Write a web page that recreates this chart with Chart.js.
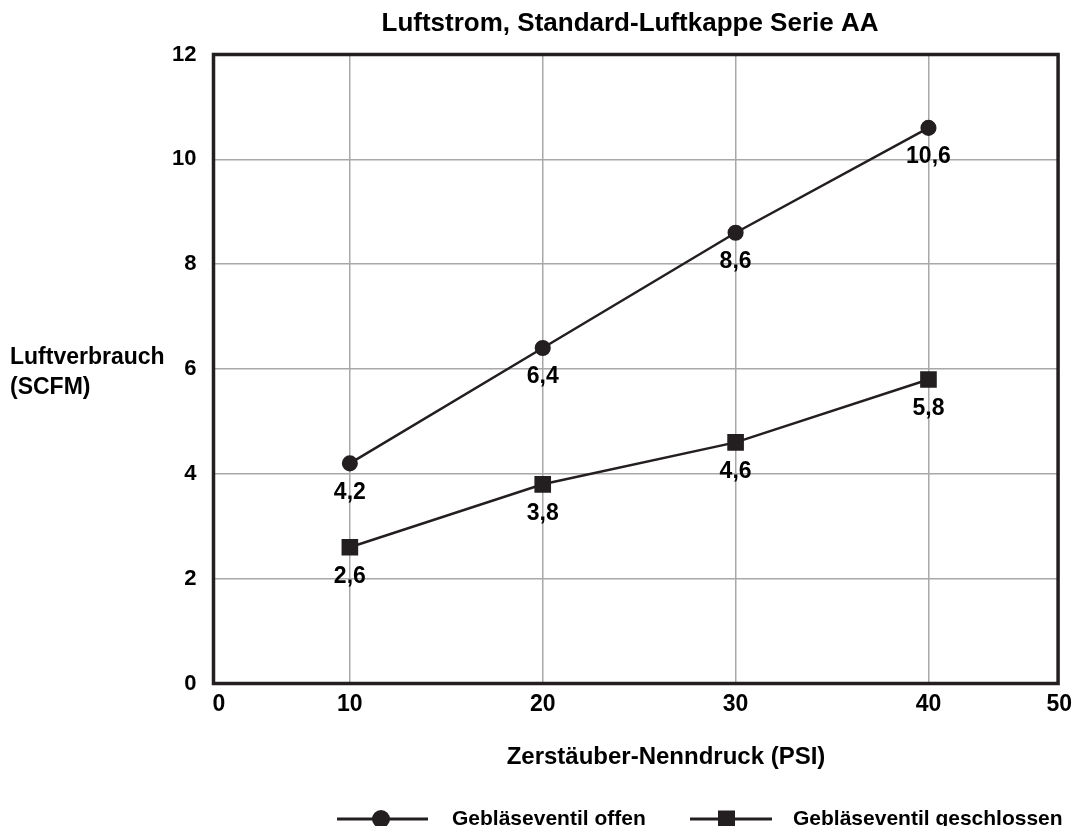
<!DOCTYPE html>
<html>
<head>
<meta charset="utf-8">
<script src="https://cdn.jsdelivr.net/npm/chart.js@4.4.1/dist/chart.umd.min.js"></script>
<style>
  html, body { margin: 0; padding: 0; background: #ffffff; }
  #wrap { width: 1079px; height: 826px; position: relative; }
</style>
</head>
<body>
<div id="wrap"><canvas id="c" width="1079" height="826"></canvas></div>
<script>
// Zerstäuber-Nenndruck (PSI)
const pressures = [10, 20, 30, 40];
// Luftverbrauch (SCFM)
const ventilOffen = [4.2, 6.4, 8.6, 10.6];
const ventilGeschlossen = [2.6, 3.8, 4.6, 5.8];

const seriesNames = ['Gebläseventil offen', 'Gebläseventil geschlossen'];
const xTickLabels = ['0', '10', '20', '30', '40', '50'];
const yTickValues = [0, 2, 4, 6, 8, 10, 12];

// The printed pressure axis is not linear at its ends: "0" and "50" sit at the frame.
const xRange = { min: 2.93, max: 46.72 };
const xTickValues = [3.21, 10, 20, 30, 40, 46.78];

const INK = '#231f20';
const GRID = '#a8a8a8';
const FONT = '"Liberation Sans", Arial, Helvetica, sans-serif';

const fmt = v => v.toFixed(1).replace('.', ',');

const toPoints = ys => pressures.map((x, i) => ({ x: x, y: ys[i] }));

// Thick frame round the plot area
const framePlugin = {
  id: 'frame',
  beforeDatasetsDraw(chart) {
    const { ctx, chartArea: a } = chart;
    ctx.save();
    ctx.strokeStyle = INK;
    ctx.lineWidth = 3.5;
    ctx.strokeRect(a.left, a.top, a.right - a.left, a.bottom - a.top);
    ctx.restore();
  }
};

// Value labels under each marker
const valueLabelPlugin = {
  id: 'valueLabels',
  afterDatasetsDraw(chart) {
    const { ctx } = chart;
    ctx.save();
    ctx.fillStyle = '#000';
    ctx.font = 'bold 23px ' + FONT;
    ctx.textAlign = 'center';
    ctx.textBaseline = 'middle';
    chart.data.datasets.forEach((ds, di) => {
      const meta = chart.getDatasetMeta(di);
      meta.data.forEach((el, i) => {
        ctx.fillText(fmt(ds.data[i].y), el.x, el.y + 29);
      });
    });
    ctx.restore();
  }
};

// Title, axis titles and legend drawn as text on the canvas
const textPlugin = {
  id: 'texts',
  afterDraw(chart) {
    const { ctx } = chart;
    ctx.save();
    ctx.fillStyle = '#000';
    ctx.textBaseline = 'middle';

    ctx.font = 'bold 26px ' + FONT;
    ctx.textAlign = 'center';
    ctx.fillText('Luftstrom, Standard-Luftkappe Serie AA', 630, 24);

    ctx.font = 'bold 24px ' + FONT;
    ctx.fillText('Zerstäuber-Nenndruck (PSI)', 666, 757);

    ctx.font = 'bold 23px ' + FONT;
    ctx.textAlign = 'left';
    ctx.fillText('Luftverbrauch', 10, 358);
    ctx.fillText('(SCFM)', 10, 388);

    // legend
    const ly = 819;
    ctx.strokeStyle = INK;
    ctx.fillStyle = INK;
    ctx.lineWidth = 3;
    ctx.beginPath();
    ctx.moveTo(337, ly); ctx.lineTo(428, ly);
    ctx.stroke();
    ctx.beginPath();
    ctx.arc(381, ly, 9, 0, Math.PI * 2);
    ctx.fill();

    ctx.beginPath();
    ctx.moveTo(690, ly); ctx.lineTo(772, ly);
    ctx.stroke();
    ctx.fillRect(718, ly - 8.5, 17, 17);

    ctx.fillStyle = '#000';
    ctx.font = 'bold 21px ' + FONT;
    ctx.fillText(seriesNames[0], 452, ly);
    ctx.fillText(seriesNames[1], 793, ly);
    ctx.restore();
  }
};

new Chart(document.getElementById('c'), {
  type: 'line',
  data: {
    datasets: [
      {
        label: seriesNames[0],
        data: toPoints(ventilOffen),
        borderColor: INK,
        backgroundColor: INK,
        borderWidth: 2.5,
        pointStyle: 'circle',
        pointRadius: 6.8,
        pointHoverRadius: 6.8,
        fill: false,
        tension: 0
      },
      {
        label: seriesNames[1],
        data: toPoints(ventilGeschlossen),
        borderColor: INK,
        backgroundColor: INK,
        borderWidth: 2.5,
        pointStyle: 'rect',
        pointRadius: 10,
        pointHoverRadius: 10,
        fill: false,
        tension: 0
      }
    ]
  },
  options: {
    responsive: false,
    devicePixelRatio: 1,
    animation: false,
    events: [],
    layout: { padding: { left: 0, right: 15.5, top: 54.5, bottom: 0 } },
    plugins: {
      legend: { display: false },
      title: { display: false },
      tooltip: { enabled: false }
    },
    scales: {
      x: {
        type: 'linear',
        min: xRange.min,
        max: xRange.max,
        afterFit(scale) { scale.height = 142.5; },
        afterBuildTicks(scale) {
          scale.ticks = xTickValues.map(v => ({ value: v }));
        },
        ticks: {
          padding: 7,
          color: '#000',
          font: { family: FONT, size: 23, weight: 'bold' },
          maxRotation: 0,
          autoSkip: false,
          callback: (value, index) => xTickLabels[index]
        },
        grid: {
          drawTicks: false,
          lineWidth: 1.5,
          color: ctx => (ctx.index === 0 || ctx.index === xTickValues.length - 1) ? 'rgba(0,0,0,0)' : GRID
        },
        border: { display: false }
      },
      y: {
        type: 'linear',
        min: 0,
        max: 12,
        afterFit(scale) { scale.width = 213.5; },
        afterBuildTicks(scale) {
          scale.ticks = yTickValues.map(v => ({ value: v }));
        },
        ticks: {
          padding: 17,
          color: '#000',
          font: { family: FONT, size: 22, weight: 'bold' },
          callback: v => String(v)
        },
        grid: {
          drawTicks: false,
          lineWidth: 1.5,
          color: GRID
        },
        border: { display: false }
      }
    }
  },
  plugins: [framePlugin, valueLabelPlugin, textPlugin]
});
</script>
</body>
</html>
